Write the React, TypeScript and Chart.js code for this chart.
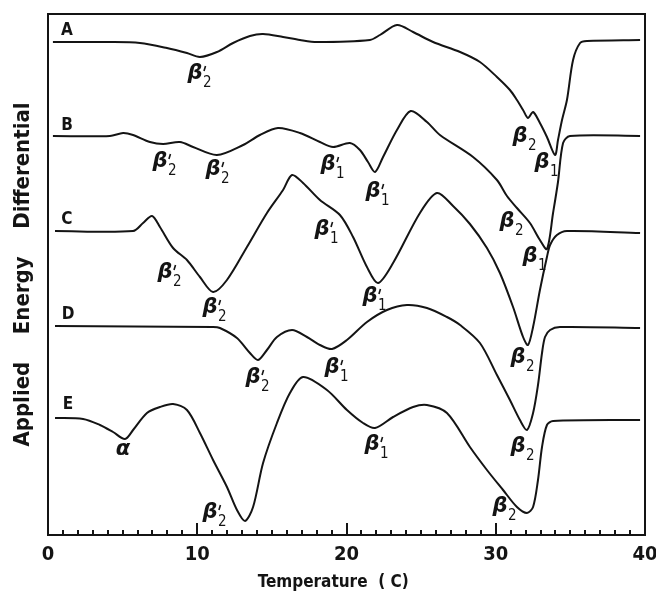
import React, { useEffect, useRef } from "react";
import { Chart, registerables } from "chart.js";

Chart.register(...registerables);

type Pt = [number, number];

// Temperature (°C) vs applied energy differential (arbitrary units, curves offset)
const curveA: Pt[] = [
  [0.33, 49.3], [4.15, 49.3], [6.16, 49.2], [7.97, 48.7], [9.31, 48.2], [10.18, 47.8],
  [11.32, 48.3], [12.4, 49.2], [13.53, 49.9], [14.41, 50.1], [15.75, 49.8], [16.88, 49.5],
  [18.02, 49.3], [21.57, 49.5], [22.24, 50.0], [23.38, 51.0], [24.46, 50.3], [25.8, 49.3],
  [27.61, 48.3], [28.94, 47.3], [30.08, 45.8], [30.95, 44.5], [31.42, 43.5], [31.83, 42.5],
  [32.16, 41.7], [32.5, 42.3], [32.96, 41.2], [33.43, 39.8], [33.97, 38.0], [34.17, 39.5],
  [34.44, 41.5], [34.77, 43.5], [35.18, 47.5], [35.65, 49.2], [36.11, 49.4], [39.67, 49.5],
];

const curveB: Pt[] = [
  [0.33, 39.9], [4.15, 39.9], [5.03, 40.2], [5.7, 40.0], [6.83, 39.3], [7.71, 39.1],
  [8.84, 39.3], [9.72, 38.8], [11.32, 38.0], [13.07, 39.0], [14.2, 40.0], [15.41, 40.7],
  [16.88, 40.2], [18.22, 39.3], [19.1, 38.8], [20.23, 39.2], [20.9, 38.5], [21.44, 37.3],
  [21.91, 36.3], [22.45, 37.8], [23.38, 40.5], [24.3, 42.4], [25.39, 41.3], [26.26, 40.0],
  [28.48, 37.8], [30.08, 35.5], [30.75, 33.9], [31.42, 32.7], [32.29, 31.2],
  [32.96, 29.5], [33.43, 28.6], [33.84, 32.2], [34.17, 35.3], [34.51, 39.2], [34.97, 39.9],
  [39.67, 39.9],
];

const curveC: Pt[] = [
  [0.47, 30.4], [5.7, 30.4], [6.37, 31.2], [6.97, 31.9], [7.5, 30.8], [8.38, 28.7],
  [9.31, 27.5], [10.18, 25.8], [11.06, 24.3], [11.99, 25.5], [13.33, 28.8], [14.67, 32.2],
  [15.75, 34.5], [16.35, 36.0], [17.09, 35.2], [18.22, 33.5], [19.56, 32.0], [20.44, 29.8],
  [21.37, 26.8], [22.11, 25.2], [23.12, 27.2], [24.92, 32.2], [26.06, 34.2], [27.14, 32.9],
  [28.27, 31.1], [29.41, 28.7], [30.28, 26.2], [31.16, 22.8], [31.83, 19.8], [32.16, 19.0],
  [32.5, 20.8], [32.96, 24.5], [33.43, 27.8], [33.64, 29.0], [34.1, 30.0], [34.77, 30.4],
  [39.67, 30.2],
];

const curveD: Pt[] = [
  [0.47, 20.9], [11.06, 20.8], [11.52, 20.7], [12.66, 19.7], [13.53, 18.2], [14.07, 17.5],
  [14.67, 18.5], [15.34, 19.8], [16.35, 20.5], [17.35, 19.8], [18.22, 19.0], [19.03, 18.6],
  [20.03, 19.5], [21.37, 21.3], [22.71, 22.5], [24.05, 23.0], [25.39, 22.7], [26.73, 21.8],
  [27.61, 21.0], [28.94, 19.2], [30.08, 16.0], [30.95, 13.5], [31.62, 11.5], [32.09, 10.5],
  [32.5, 12.2], [32.83, 15.0], [33.1, 18.2], [33.3, 19.8], [33.64, 20.5], [34.3, 20.8],
  [39.67, 20.7],
];

const curveE: Pt[] = [
  [0.47, 11.7], [2.35, 11.6], [3.48, 11.0], [4.36, 10.3], [5.16, 9.6], [5.7, 10.5],
  [6.63, 12.2], [7.5, 12.8], [8.38, 13.1], [9.31, 12.5], [10.18, 10.2], [11.06, 7.5],
  [11.99, 4.8], [12.66, 2.5], [13.2, 1.4], [13.74, 2.8], [14.41, 7.2], [15.34, 11.2],
  [16.21, 14.2], [17.09, 15.8], [18.69, 14.5], [20.03, 12.5], [21.11, 11.2], [21.91, 10.7],
  [23.12, 11.8], [24.46, 12.8], [25.39, 13.0], [26.73, 12.2], [28.27, 8.8], [29.41, 6.5],
  [30.49, 4.5], [31.42, 2.8], [32.09, 2.2], [32.5, 2.8], [32.83, 5.5], [33.1, 8.8],
  [33.43, 11.0], [33.84, 11.4], [39.67, 11.5],
];

const curves: Pt[][] = [curveA, curveB, curveC, curveD, curveE];
const curveNames = ["A", "B", "C", "D", "E"];
const nameAnchors: Pt[] = [[1.27, 50.4], [1.27, 40.9], [1.27, 31.5], [1.34, 22.0], [1.34, 13.0]];

type PeakLabel = { x: number; y: number; sym: string; sub: string; prime: boolean };
const peakLabels: PeakLabel[] = [
  { x: 9.85, y: 46.1, sym: "β", sub: "2", prime: true },
  { x: 31.62, y: 39.8, sym: "β", sub: "2", prime: false },
  { x: 33.1, y: 37.2, sym: "β", sub: "1", prime: false },
  { x: 7.5, y: 37.3, sym: "β", sub: "2", prime: true },
  { x: 11.06, y: 36.5, sym: "β", sub: "2", prime: true },
  { x: 18.76, y: 37.0, sym: "β", sub: "1", prime: true },
  { x: 21.78, y: 34.3, sym: "β", sub: "1", prime: true },
  { x: 30.75, y: 31.3, sym: "β", sub: "2", prime: false },
  { x: 32.29, y: 27.8, sym: "β", sub: "1", prime: false },
  { x: 7.84, y: 26.2, sym: "β", sub: "2", prime: true },
  { x: 10.85, y: 22.7, sym: "β", sub: "2", prime: true },
  { x: 18.36, y: 30.5, sym: "β", sub: "1", prime: true },
  { x: 21.57, y: 23.8, sym: "β", sub: "1", prime: true },
  { x: 31.49, y: 17.7, sym: "β", sub: "2", prime: false },
  { x: 13.74, y: 15.7, sym: "β", sub: "2", prime: true },
  { x: 19.03, y: 16.7, sym: "β", sub: "1", prime: true },
  { x: 31.49, y: 8.8, sym: "β", sub: "2", prime: false },
  { x: 5.03, y: 8.5, sym: "α", sub: "", prime: false },
  { x: 10.85, y: 2.2, sym: "β", sub: "2", prime: true },
  { x: 21.71, y: 9.0, sym: "β", sub: "1", prime: true },
  { x: 30.28, y: 2.8, sym: "β", sub: "2", prime: false },
];

const xTickLabels = [0, 10, 20, 30, 40];
const xAxisTitle = "Temperature  ( C)     ";
const yAxisTitle = "Applied    Energy    Differential";

const INK = "#141414";
const NARROW = "'DejaVu Sans Condensed', 'DejaVu Sans', sans-serif";

const decorPlugin = {
  id: "decor",
  afterDraw(chart: any) {
    const { ctx, chartArea: a, scales } = chart;
    const x = scales.x;
    const y = scales.y;
    ctx.save();
    ctx.strokeStyle = INK;
    ctx.fillStyle = INK;
    ctx.lineWidth = 2;
    ctx.beginPath();
    ctx.moveTo(a.left - 1, a.top);
    ctx.lineTo(a.right, a.top);
    ctx.lineTo(a.right, a.bottom + 1);
    ctx.stroke();
    for (let t = 1; t < 40; t++) {
      const px = Math.round(x.getPixelForValue(t));
      const len = t % 10 === 0 ? 12 : 5;
      ctx.beginPath();
      ctx.moveTo(px, a.bottom);
      ctx.lineTo(px, a.bottom - len);
      ctx.stroke();
    }
    ctx.textAlign = "center";
    ctx.textBaseline = "middle";
    ctx.font = "bold 17px " + NARROW;
    curveNames.forEach((n, i) => {
      ctx.fillText(n, x.getPixelForValue(nameAnchors[i][0]), y.getPixelForValue(nameAnchors[i][1]));
    });
    for (const l of peakLabels) {
      const px = x.getPixelForValue(l.x);
      const py = y.getPixelForValue(l.y);
      ctx.font = "bold italic 21px 'DejaVu Sans', sans-serif";
      ctx.textAlign = "center";
      ctx.textBaseline = "middle";
      ctx.fillText(l.sym, px, py);
      if (l.sub) {
        ctx.font = "15px " + NARROW;
        ctx.textAlign = "left";
        ctx.textBaseline = "alphabetic";
        ctx.fillText(l.sub, px + 8, py + 13);
      }
      if (l.prime) {
        ctx.lineWidth = 1.6;
        ctx.beginPath();
        ctx.moveTo(px + 10.5, py - 8);
        ctx.lineTo(px + 9, py - 3);
        ctx.stroke();
      }
    }
    ctx.restore();
  },
};

export default function App() {
  const ref = useRef<HTMLCanvasElement | null>(null);
  useEffect(() => {
    if (!ref.current) return;
    const chart = new Chart(ref.current, {
      type: "line",
      data: {
        datasets: curves.map((c, i) => ({
          label: curveNames[i],
          data: c.map(([t, v]) => ({ x: t, y: v })),
          borderColor: INK,
          borderWidth: 2,
          pointRadius: 0,
          fill: false,
          tension: 0.3,
        })),
      },
      options: {
        animation: false,
        responsive: true,
        maintainAspectRatio: false,
        layout: { padding: { top: 14, right: 11, bottom: 0, left: 0 } },
        plugins: { legend: { display: false }, tooltip: { enabled: false } },
        scales: {
          x: {
            type: "linear",
            min: 0,
            max: 40,
            afterFit: (s: any) => {
              s.height = 58;
              s.paddingLeft = 0;
              s.paddingRight = 0;
            },
            afterBuildTicks: (s: any) => { s.ticks = xTickLabels.map((v) => ({ value: v })); },
            grid: { display: false, drawTicks: false },
            border: { display: true, color: INK, width: 2 },
            ticks: {
              color: INK,
              padding: 8,
              maxRotation: 0,
              autoSkip: false,
              font: { family: NARROW, size: 20, weight: "bold" },
            },
            title: {
              display: true,
              text: xAxisTitle,
              color: INK,
              font: { family: NARROW, size: 17, weight: "bold", lineHeight: 1 },
              padding: { top: 0, bottom: 2 },
            },
          },
          y: {
            type: "linear",
            min: 0,
            max: 52.1,
            afterFit: (s: any) => { s.width = 48; },
            grid: { display: false, drawTicks: false },
            border: { display: true, color: INK, width: 2 },
            ticks: { display: false },
            title: {
              display: true,
              text: yAxisTitle,
              color: INK,
              font: { family: NARROW, size: 22, weight: "bold", lineHeight: 1 },
              padding: { top: 12, bottom: 0 },
            },
          },
        },
      },
      plugins: [decorPlugin],
    });
    return () => chart.destroy();
  }, []);
  return (
    <div style={{ position: "fixed", left: 0, top: 0, width: 656, height: 593, background: "#fff" }}>
      <canvas ref={ref} />
    </div>
  );
}
